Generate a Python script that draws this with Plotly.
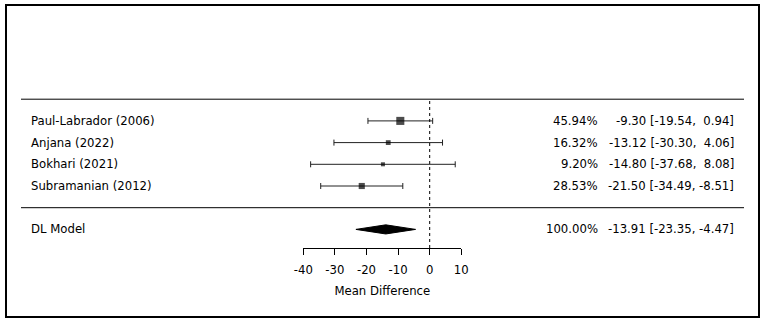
import plotly.graph_objects as go

# ---- data ----
studies = ["Paul-Labrador (2006)", "Anjana (2022)", "Bokhari (2021)", "Subramanian (2012)"]
estimates = [-9.30, -13.12, -14.80, -21.50]
lower = [-19.54, -30.30, -37.68, -34.49]
upper = [0.94, 4.06, 8.08, -8.51]
weights = [45.94, 16.32, 9.20, 28.53]
model_label = "DL Model"
model_est = -13.91
model_lower = -23.35
model_upper = -4.47
model_weight = 100.00
x_ticks = [-40, -30, -20, -10, 0, 10]
x_title = "Mean Difference"

# ---- layout helpers ----
W, H = 767, 323
rows = [6, 5, 4, 3]
model_row = 1
FONT = dict(family="DejaVu Sans", size=11.7, color="black")

def px_x(p):
    return p / W

def px_y(p):
    return 1 - p / H

fig = go.Figure()

# study CIs and squares
sizes = [3 + w * 0.11 for w in weights]
fig.add_trace(go.Scatter(
    x=estimates, y=rows, mode="markers",
    marker=dict(symbol="square", size=sizes, color="black", line=dict(width=0)),
    error_x=dict(type="data", symmetric=False,
                 array=[u - e for u, e in zip(upper, estimates)],
                 arrayminus=[e - l for e, l in zip(estimates, lower)],
                 color="#222222", thickness=1, width=3),
    showlegend=False, hoverinfo="skip", cliponaxis=False,
))

# summary diamond
h = 0.21
fig.add_trace(go.Scatter(
    x=[model_lower, model_est, model_upper, model_est, model_lower],
    y=[model_row, model_row + h, model_row, model_row - h, model_row],
    mode="lines", fill="toself", fillcolor="black",
    line=dict(color="black", width=1), showlegend=False, hoverinfo="skip",
))

# reference line at 0
fig.add_shape(type="line", xref="x", yref="y", x0=0, x1=0, y0=0.143, y1=7,
              line=dict(color="black", width=1, dash="dot"))

# horizontal separators
for yy in [7, 2]:
    fig.add_shape(type="line", xref="paper", yref="y", x0=px_x(21), x1=px_x(744),
                  y0=yy, y1=yy, line=dict(color="black", width=1))

# outer border
fig.add_shape(type="rect", xref="paper", yref="paper", x0=px_x(6), x1=px_x(759),
              y0=px_y(317), y1=px_y(5), line=dict(color="black", width=2))

# text columns
all_labels = studies + [model_label]
all_rows = rows + [model_row]
all_w = weights + [model_weight]
all_e = estimates + [model_est]
all_l = lower + [model_lower]
all_u = upper + [model_upper]

def fmt(v):
    s = f"{v:.2f}"
    return s if v < 0 else "\u00a0" + s

for lab, r, w, e, l, u in zip(all_labels, all_rows, all_w, all_e, all_l, all_u):
    fig.add_annotation(x=px_x(29), y=r, xref="paper", yref="y", text=lab,
                       showarrow=False, xanchor="left", yanchor="middle", font=FONT)
    fig.add_annotation(x=px_x(600), y=r, xref="paper", yref="y", text=f"{w:.2f}%",
                       showarrow=False, xanchor="right", yanchor="middle", font=FONT)
    fig.add_annotation(x=px_x(736), y=r, xref="paper", yref="y",
                       text=f"{e:.2f} [{l:.2f}, {fmt(u)}]",
                       showarrow=False, xanchor="right", yanchor="middle", font=FONT)

fig.update_layout(
    width=W, height=H,
    margin=dict(l=0, r=0, t=0, b=0),
    paper_bgcolor="white", plot_bgcolor="white",
    xaxis=dict(domain=[px_x(303.3), px_x(461.3)], range=[-40, 10],
               tickvals=x_ticks, ticktext=[str(t) for t in x_ticks],
               showline=True, linecolor="black", linewidth=1,
               ticks="outside", ticklen=6, tickcolor="black", tickwidth=1,
               ticklabelstandoff=5,
               showgrid=False, zeroline=False, tickfont=FONT,
               title=dict(text=x_title, font=FONT, standoff=10),
               automargin=False, fixedrange=True),
    yaxis=dict(domain=[px_y(248), px_y(90)], range=[0.143, 7.424],
               visible=False, showgrid=False, zeroline=False, fixedrange=True),
)

fig.write_html("out.html", config={"displayModeBar": False},
               post_script="document.body.style.margin='0';document.body.style.overflow='hidden';")
